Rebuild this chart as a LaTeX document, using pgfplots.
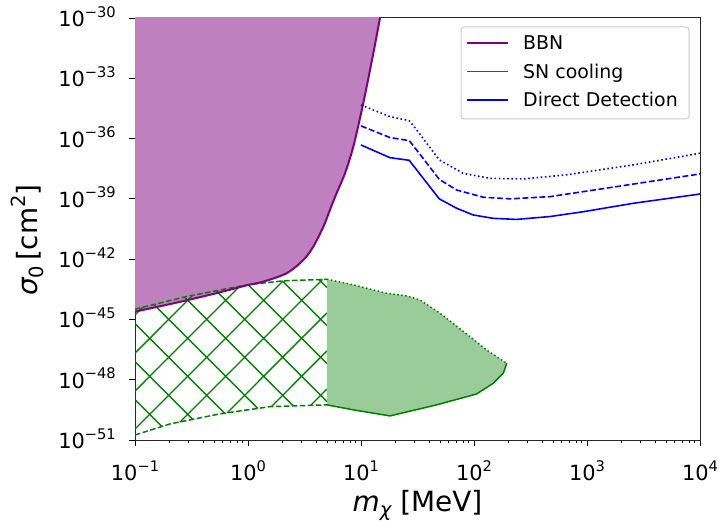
\documentclass[border=0pt]{standalone}
\usepackage{pgfplots}
\pgfplotsset{compat=1.18}
\usepgfplotslibrary{fillbetween}
\usepackage{fontspec}
\setmainfont{DejaVu Sans}
\definecolor{bbnline}{RGB}{128,0,128}
\definecolor{bbnfill}{RGB}{191,128,191}
\definecolor{sngreen}{RGB}{0,128,0}
\definecolor{snfill}{RGB}{153,204,153}
\definecolor{ddblue}{RGB}{0,0,255}
\newcommand{\sci}[1]{10\raisebox{0.45em}{\fontsize{14.7}{14.7}\selectfont #1}}
\begin{document}
\begin{tikzpicture}
\begin{axis}[
  scale only axis, width=565bp, height=422bp,
  xmode=log, ymode=log,
  xmin=0.1, xmax=1e4, ymin=1e-51, ymax=1e-30,
  xtick={0.1,1,10,100,1000,10000},
  xticklabels={\sci{−1},\sci{0},\sci{1},\sci{2},\sci{3},\sci{4}},
  ytick={1e-51,1e-48,1e-45,1e-42,1e-39,1e-36,1e-33,1e-30},
  yticklabels={\sci{−51},\sci{−48},\sci{−45},\sci{−42},\sci{−39},\sci{−36},\sci{−33},\sci{−30}},
  minor xtick={0.2,0.3,0.4,0.5,0.6,0.7,0.8,0.9,2,3,4,5,6,7,8,9,20,30,40,50,60,70,80,90,200,300,400,500,600,700,800,900,2000,3000,4000,5000,6000,7000,8000,9000},
  yminorticks=false,
  xtick pos=bottom, ytick pos=left,
  tick align=outside,
  major tick length=6bp, minor tick length=3.5bp,
  tick style={line width=0.9bp, black},
  axis line style={line width=1bp, black!85},
  ticklabel style={font=\fontsize{21}{25}\selectfont},
  xticklabel style={anchor=base, inner sep=0pt, yshift=-35bp},
  yticklabel style={anchor=base east, inner sep=0pt, xshift=-13bp, yshift=-8.5bp},
  xlabel={{\itshape m}\raisebox{-0.17em}{\fontsize{19.6}{20}\selectfont\itshape χ} [MeV]},
  ylabel={{\itshape σ}\raisebox{-0.2em}{\fontsize{19.6}{20}\selectfont 0}\,[cm\raisebox{0.45em}{\fontsize{19.6}{20}\selectfont 2}]},
  label style={font=\fontsize{28}{32}\selectfont},
  xlabel style={at={(axis description cs:0.5,-0.170)}, anchor=base},
  ylabel style={at={(axis description cs:-0.1717,0.474)}, anchor=base},
  hatch/.style={sngreen, line width=1.4bp, forget plot},
]
% SN cooling hatched region (0.1 - 5 MeV): crossing hatch lines, ending on the region's edges
\addplot[hatch] coordinates {(0.1,1.66e-45) (0.1170,4.02e-45)};
\addplot[hatch] coordinates {(0.1,2.13e-47) (0.3238,1.58e-44)};
\addplot[hatch] coordinates {(0.1,2.74e-49) (0.8462,4.51e-44)};
\addplot[hatch] coordinates {(0.1,3.53e-51) (2.046,8.30e-44)};
\addplot[hatch] coordinates {(0.2507,7.96e-51) (4.574,9.82e-44)};
\addplot[hatch] coordinates {(0.6541,2.25e-50) (5,2.09e-45)};
\addplot[hatch] coordinates {(1.611,4.59e-50) (5,2.69e-47)};
\addplot[hatch] coordinates {(3.583,5.28e-50) (5,3.45e-49)};
\addplot[hatch] coordinates {(0.1,1.02e-49) (0.1729,4.70e-51)};
\addplot[hatch] coordinates {(0.1,7.96e-48) (0.3244,1.07e-50)};
\addplot[hatch] coordinates {(0.1,6.20e-46) (0.6208,2.16e-50)};
\addplot[hatch] coordinates {(0.1471,5.51e-45) (1.221,3.73e-50)};
\addplot[hatch] coordinates {(0.2739,1.30e-44) (2.518,4.97e-50)};
\addplot[hatch] coordinates {(0.5230,2.67e-44) (5,8.15e-50)};
\addplot[hatch] coordinates {(1.002,5.35e-44) (5,6.34e-48)};
\addplot[hatch] coordinates {(2.014,8.22e-44) (5,4.93e-46)};
\addplot[hatch] coordinates {(4.245,9.66e-44) (5,3.84e-44)};
% SN cooling filled region (5 - 195 MeV)
\addplot[draw=none, fill=snfill, forget plot]
  coordinates {(5,1.0e-43) (8.55,5.25e-44) (16.9,2.0e-44) (25.4,1.48e-44) (33.3,9.3e-45) (50,2.04e-45)
               (92.3,1.38e-46) (129.4,3.0e-47) (194.5,6.6e-48)
               (181.6,2.09e-48) (147.9,6.6e-49) (105.4,1.95e-49) (46.7,5.6e-50) (18.07,1.58e-50) (8.55,3.16e-50) (5,5.6e-50)};
% SN boundaries
\addplot[sngreen, line width=1.5bp, dash pattern=on 5.5bp off 2.5bp, forget plot]
  coordinates {(0.1,3.24e-45) (0.286,1.38e-44) (0.973,5.25e-44) (2.05,8.3e-44) (5,1.0e-43)};
\addplot[sngreen, line width=1.5bp, dash pattern=on 5.5bp off 2.5bp, forget plot]
  coordinates {(0.1,1.78e-51) (0.204,6.3e-51) (0.565,2.0e-50) (1.567,4.57e-50) (5,5.6e-50)};
\addplot[sngreen, line width=1.5bp, dash pattern=on 1.5bp off 2.5bp, forget plot]
  coordinates {(5,1.0e-43) (8.55,5.25e-44) (16.9,2.0e-44) (25.4,1.48e-44) (33.3,9.3e-45) (50,2.04e-45)
               (92.3,1.38e-46) (129.4,3.0e-47) (194.5,6.6e-48)};
\addplot[sngreen, line width=1.5bp, forget plot]
  coordinates {(5,5.6e-50) (8.55,3.16e-50) (18.07,1.58e-50) (46.7,5.6e-50) (105.4,1.95e-49) (147.9,6.6e-49) (181.6,2.09e-48) (194.5,6.6e-48)};
% BBN
\addplot[name path=bbn, draw=none, smooth, tension=0.5, forget plot]
  coordinates {(0.1,2.45e-45) (0.218,6.3e-45) (0.493,1.85e-44) (0.977,5.0e-44) (1.365,7.6e-44) (2.2,2.0e-43)
               (3.09,9.1e-43) (3.78,4.17e-42) (4.65,4.17e-41) (5.31,2.82e-40) (6.08,1.9e-39) (7.21,1.86e-38)
               (8.55,3.98e-37) (10.47,5.75e-35) (12.85,1.74e-32) (14.72,1e-30) (15.5,5e-30)};
\path[name path=bbntop] (axis cs:0.1,1e-28) -- (axis cs:20,1e-28);
\addplot[bbnfill, forget plot] fill between[of=bbn and bbntop];
\addplot[bbnline, line width=2bp, smooth, tension=0.5, forget plot]
  coordinates {(0.1,2.45e-45) (0.218,6.3e-45) (0.493,1.85e-44) (0.977,5.0e-44) (1.365,7.6e-44) (2.2,2.0e-43)
               (3.09,9.1e-43) (3.78,4.17e-42) (4.65,4.17e-41) (5.31,2.82e-40) (6.08,1.9e-39) (7.21,1.86e-38)
               (8.55,3.98e-37) (10.47,5.75e-35) (12.85,1.74e-32) (14.72,1e-30) (15.5,5e-30)};
% Direct detection
\addplot[ddblue, line width=1.6bp, forget plot]
  coordinates {(10,4.8e-37) (18.07,1.12e-37) (26.7,8.3e-38) (31.1,2.75e-38) (49.3,1.0e-39) (70.3,3.4e-40)
               (98.4,1.58e-40) (148.3,1.07e-40) (238.2,9.5e-41) (471,1.32e-40) (927,2.29e-40) (2564,6.0e-40) (10000,1.74e-39)};
\addplot[ddblue, line width=1.6bp, dash pattern=on 5.9bp off 2.6bp, forget plot]
  coordinates {(10,4.27e-36) (18.07,1.12e-36) (26.7,7.9e-37) (31.1,2.69e-37) (49.3,9.3e-39) (70.3,2.75e-39)
               (121,1.2e-39) (210,1.0e-39) (471,1.29e-39) (1828,4.07e-39) (10000,1.74e-38)};
\addplot[ddblue, line width=1.6bp, dash pattern=on 1.6bp off 2.6bp, forget plot]
  coordinates {(10,4.68e-35) (18.07,1.23e-35) (26.7,7.8e-36) (31.1,2.69e-36) (49.3,8.7e-38) (80.4,1.86e-38)
               (138.7,1.05e-38) (271.6,9.8e-39) (647,1.55e-38) (2564,4.9e-38) (10000,1.86e-37)};
\end{axis}
% legend
\draw[black!20, line width=1bp, rounded corners=3bp, fill=white, fill opacity=0.8] (326bp,321bp) rectangle (554bp,413bp);
\draw[draw=bbnline, line width=1.5bp] (332bp,397bp) -- (373bp,397bp);
\draw[draw=sngreen, line width=1.5bp] (332bp,368.5bp) -- (373bp,368.5bp);
\draw[draw=ddblue, line width=1.5bp] (332bp,340bp) -- (373bp,340bp);
\node[anchor=base west, inner sep=0pt, font=\fontsize{19}{22}\selectfont] at (388bp,390.1bp) {BBN};
\node[anchor=base west, inner sep=0pt, font=\fontsize{19}{22}\selectfont] at (388bp,361.6bp) {SN cooling};
\node[anchor=base west, inner sep=0pt, font=\fontsize{19}{22}\selectfont] at (388bp,333.1bp) {Direct Detection};
\pgfresetboundingbox
\path[use as bounding box] (-135bp,-81bp) rectangle (584bp,440bp);
\end{tikzpicture}
\end{document}
